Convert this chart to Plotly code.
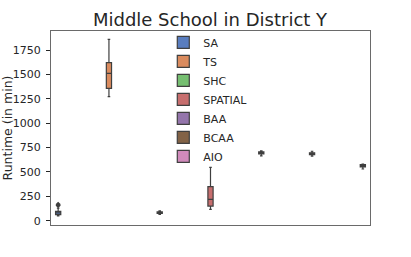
import plotly.graph_objects as go

# Algorithms (hue categories) and hand-read runtime samples (minutes)
algorithms = ["SA", "TS", "SHC", "SPATIAL", "BAA", "BCAA", "AIO"]
sa_runtime = [50, 55, 58, 62, 68, 72, 76, 80, 84, 88, 92, 95, 130, 155, 168]
ts_runtime = [1272, 1300, 1357, 1400, 1460, 1510, 1550, 1590, 1620, 1720, 1860]
shc_runtime = [65, 72, 76, 80, 82, 84, 86, 88, 90, 95, 100]
spatial_runtime = [116, 130, 150, 170, 200, 219, 250, 300, 349, 450, 547]
baa_runtime = [665, 675, 685, 690, 694, 697, 700, 702, 705, 710, 715]
bcaa_runtime = [662, 670, 677, 682, 685, 688, 690, 693, 696, 704, 712]
aio_runtime = [530, 540, 552, 558, 562, 566, 569, 571, 574, 577, 580]
y_ticks = [0, 250, 500, 750, 1000, 1250, 1500, 1750]

series = [sa_runtime, ts_runtime, shc_runtime, spatial_runtime,
          baa_runtime, bcaa_runtime, aio_runtime]
colors = ["#597dbf", "#da8b5e", "#76bf71", "#c76e6e", "#9475ab", "#826246", "#d08abb"]

# seaborn-style dodge: x = algorithm category, hue = algorithm
n_hue = len(algorithms)
group_width = 0.8
slot = group_width / n_hue

fig = go.Figure()
for i, (name, vals, col) in enumerate(zip(algorithms, series, colors)):
    pos = i + (i - (n_hue - 1) / 2) * slot
    fig.add_trace(go.Box(
        x=[pos] * len(vals), y=vals, name=name, width=slot,
        fillcolor=col, line=dict(color="#3f3f3f", width=1.2),
        marker=dict(symbol="diamond", color="#3f3f3f", size=4),
        boxpoints="outliers", quartilemethod="exclusive",
        whiskerwidth=0.5,
    ))

fig.update_layout(
    width=411, height=257,
    margin=dict(l=51, r=41, t=31, b=32, autoexpand=False),
    paper_bgcolor="white", plot_bgcolor="white",
    font=dict(family="DejaVu Sans", color="#262626", size=11),
    boxmode="overlay",
    title=dict(text="Middle School in District Y", x=0.511, xanchor="center",
               y=0.922, yanchor="middle", font=dict(size=18, color="#262626")),
    legend=dict(x=0.352, y=1.016, xanchor="left", yanchor="top",
                bgcolor="rgba(0,0,0,0)", font=dict(size=11),
                tracegroupgap=0, maxheight=240),
    showlegend=True,
)
fig.update_xaxes(
    range=[-0.5, n_hue - 0.5], showticklabels=False, ticks="",
    showline=True, mirror=True, linecolor="#6a6a6a", linewidth=1.3,
    showgrid=False, zeroline=False, automargin=False,
)
fig.update_yaxes(
    range=[-44, 1945], tickvals=y_ticks, ticks="outside", ticklen=4,
    tickcolor="#262626", tickfont=dict(size=11), ticklabelstandoff=3,
    showline=True, mirror=True, linecolor="#6a6a6a", linewidth=1.3,
    showgrid=False, zeroline=False, automargin=False,
    title=dict(text="Runtime (in min)", font=dict(size=12.5), standoff=2),
)
fig.write_html("out.html", config={"displayModeBar": False},
               post_script="document.body.style.margin='0px';")
